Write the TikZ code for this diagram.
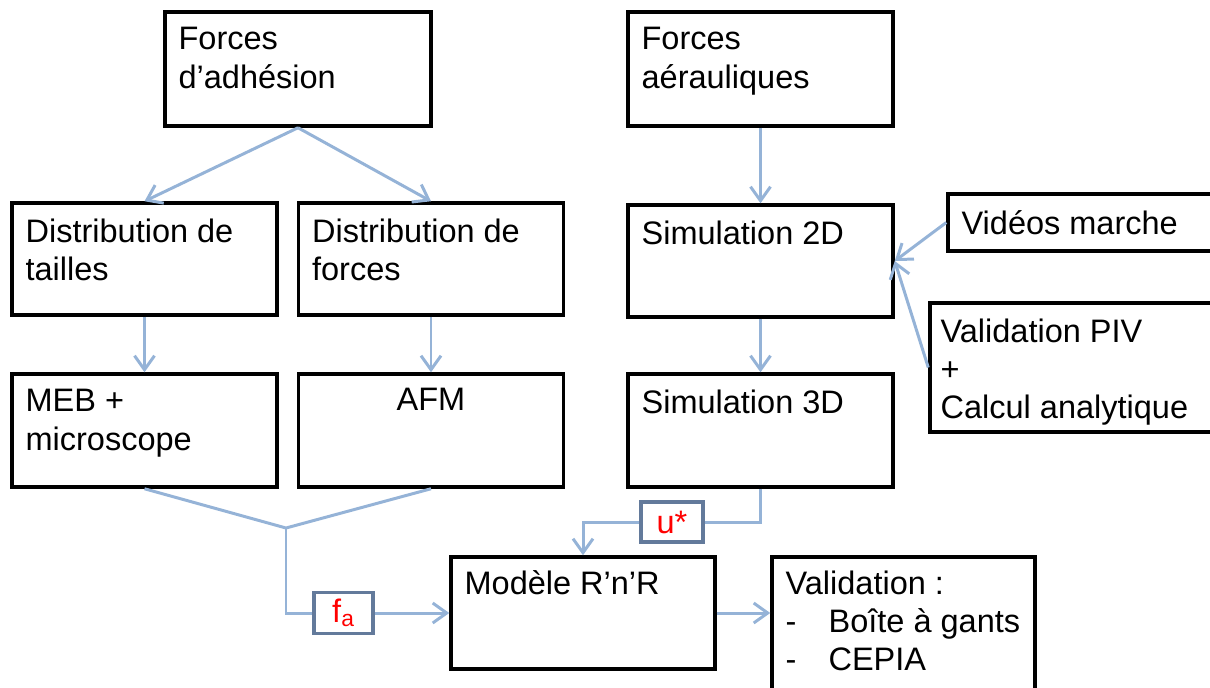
\documentclass[tikz,border=0pt]{standalone}
\usepackage{fontspec}
\setmainfont{Liberation Sans}
\usetikzlibrary{arrows.meta}
\definecolor{flowc}{RGB}{149,179,215}
\definecolor{tagc}{RGB}{99,122,155}
\tikzset{
  box/.style={draw, line width=2pt, minimum width=5.3cm, minimum height=2.24cm, inner sep=0pt},
  txt/.style={anchor=north west, align=left, inner xsep=0.3cm, inner ysep=0.34cm, font=\fontsize{18.5}{21.8}\selectfont},
  flow/.style={draw=flowc, line width=1.7pt},
  arr/.style={flow, -{Straight Barb[length=2.8mm, width=4mm, line width=1.7pt]}},
  tag/.style={draw=tagc, line width=1.8pt, fill=white, text=red, inner sep=0pt, font=\fontsize{18.5}{22}\selectfont},
}

\begin{document}
\begin{tikzpicture}[x=0.02cm, y=-0.02cm]
  \useasboundingbox (0,0) rectangle (1210,687);
  % adhesion side
  \node[box, minimum width=5.32cm, minimum height=2.28cm, label={[txt]north west:Forces\\d’adhésion}] (adh) at (298,69) {};
  \node[box, label={[txt]north west:Distribution de\\tailles}] (tai) at (144.5,259) {};
  \node[box, label={[txt]north west:Distribution de\\forces}] (frc) at (431,259) {};
  \node[box, minimum height=2.26cm, label={[txt]north west:MEB +\\microscope}] (meb) at (144.5,430.5) {};
  \node[box, minimum height=2.26cm, label={[txt, anchor=north, inner ysep=0.32cm]north:AFM}] (afm) at (431,430.5) {};
  % aeraulic side
  \node[box, minimum height=2.28cm, label={[txt]north west:Forces\\aérauliques}] (aer) at (760.5,69) {};
  \node[box, label={[txt]north west:Simulation 2D}] (sim2) at (760.5,261) {};
  \node[box, minimum height=2.26cm, label={[txt]north west:Simulation 3D}] (sim3) at (760.5,430.5) {};
  \node[box, minimum width=5.32cm, minimum height=1.14cm, label={[txt, inner ysep=0.36cm]north west:Vidéos marche}] (vid) at (1081,222.5) {};
  \node[box, minimum width=5.68cm, minimum height=2.58cm, label={[txt, inner xsep=0.24cm]north west:Validation PIV\\+\\Calcul analytique}] (piv) at (1072,367.5) {};
  % model and validation
  \node[box, minimum width=5.28cm, label={[txt, inner ysep=0.3cm]north west:Modèle R’n’R}] (rnr) at (583,613) {};
  \node[box, minimum width=5.26cm, minimum height=2.9cm,
    label={[txt, inner ysep=0.3cm]north west:Validation :\\\makebox[0.86cm][l]{-}Boîte à gants\\\makebox[0.86cm][l]{-}CEPIA}] (val) at (903.5,629.5) {};
  % transferred quantities
  \node[tag, minimum width=1.18cm, minimum height=0.82cm] (fa) at (343.5,613) {f\textsubscript{a}};
  \node[tag, minimum width=1.24cm, minimum height=0.8cm] (us) at (672,522) {u*};
  \coordinate (jn) at (286,528);
  % arrows
  \draw[arr] (adh.south) -- (tai.north);
  \draw[arr] (adh.south) -- (frc.north);
  \draw[arr] (tai) -- (meb);
  \draw[arr] (frc) -- (afm);
  \draw[flow] (meb.south) -- (jn) -- (afm.south);
  \draw[flow] (jn) |- (fa);
  \draw[arr] (fa) -- (rnr);
  \draw[arr] (aer) -- (sim2);
  \draw[arr] (sim2) -- (sim3);
  \draw[arr] (vid.west) -- (sim2.east);
  \draw[arr] (piv.west) -- (sim2.east);
  \draw[flow] (sim3.south) |- (us);
  \draw[arr] (us) -| (rnr.north);
  \draw[arr] (rnr) -- (rnr -| val.west);
\end{tikzpicture}
\end{document}
